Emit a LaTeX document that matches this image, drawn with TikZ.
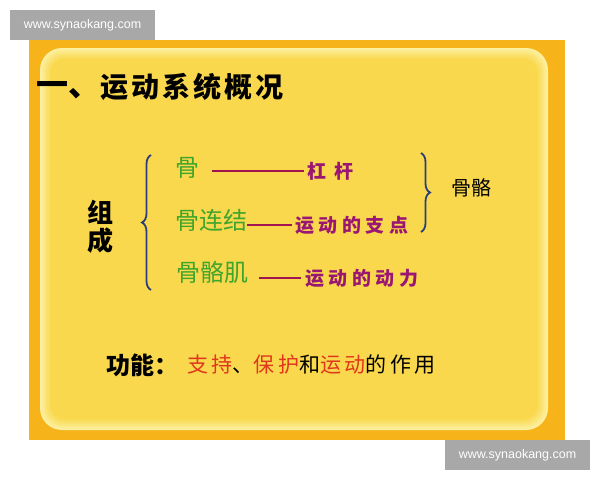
\documentclass[tikz,border=0pt]{standalone}
\usepackage{fontspec}
\setmainfont{Liberation Sans}
\newfontfamily\cjk{Noto Sans CJK SC}
\usetikzlibrary{decorations.pathreplacing}

\definecolor{frameorange}{HTML}{F6B31A}
\definecolor{panelyellow}{HTML}{F9D84B}
\definecolor{glowyellow}{HTML}{FDF0A0}
\definecolor{partgreen}{HTML}{3FA52C}
\definecolor{rolepurple}{HTML}{9A1673}
\definecolor{linkred}{HTML}{A01550}
\definecolor{braceblue}{HTML}{2A3F7A}
\definecolor{usered}{HTML}{E0361C}
\definecolor{wmgray}{HTML}{A8A8A8}

\tikzset{
    every node/.style={inner sep=0pt, outer sep=0pt},
    title/.style={anchor=west, font=\cjk\bfseries\fontsize{29}{29}\selectfont},
    group/.style={font=\cjk\bfseries\fontsize{26}{26}\selectfont},
    part/.style={anchor=west, text=partgreen, font=\cjk\fontsize{24}{24}\selectfont},
    role/.style={anchor=west, text=rolepurple, font=\cjk\bfseries\addfontfeatures{LetterSpace=24}\fontsize{19}{19}\selectfont},
    link/.style={draw=linkred, line width=2.2pt},
    curly/.style={draw=braceblue, line width=1.8pt, decorate, decoration={brace, amplitude=#1}},
    usage/.style={anchor=west, font=\cjk\addfontfeatures{LetterSpace=17}\fontsize{21}{21}\selectfont},
    wm/.style={fill=wmgray, text=white, font=\fontsize{12.5}{12.5}\selectfont, minimum width=145pt, minimum height=30pt},
}

\begin{document}
\begin{tikzpicture}[x=1pt, y=-1pt]
    \useasboundingbox (0,0) rectangle (600,480);
    \fill[white] (0,0) rectangle (600,480);

    % frame and glowing panel
    \fill[frameorange] (29,40) rectangle (565,440);
    \foreach \i [evaluate=\i as \p using int(100-\i*14)] in {0,...,7}
        \fill[glowyellow!\p!panelyellow, rounded corners=22pt-\i*1pt]
            (40+\i*1.5,48+\i*1.5) rectangle (548-\i*1.5,430-\i*1.5);

    % watermarks
    \node[wm] (wm-top) at (82.5,25) {www.synaokang.com};
    \node[wm] (wm-bottom) at (517.5,455) {www.synaokang.com};

    % heading
    \node[title, font=\cjk\bfseries\fontsize{32}{32}\selectfont] (head-num) at (36,90) {一、};
    \node[title, font=\cjk\bfseries\addfontfeatures{LetterSpace=11}\fontsize{28}{28}\selectfont] (head) at (100,87) {运动系统概况};

    % composition
    \node[group] (zu) at (100,212) {组};
    \node[group] (cheng) at (100,241) {成};

    \coordinate (lb-bottom) at (151,290);
    \coordinate (lb-top) at (151,155);
    \draw[curly=9pt] (lb-bottom) -- (lb-top);

    \node[part] (gu) at (175,168) {骨};
    \node[part] (lianjie) at (175,220) {骨连结};
    \node[part] (guge-ji) at (176,272) {骨骼肌};

    \node[role] (gangan) at (307,171) {杠\hspace{9pt}杆};
    \node[role] (zhidian) at (295,225) {运动的支点};
    \node[role] (dongli) at (305,278) {运动的动力};

    \draw[link, shorten <=13pt, shorten >=3pt] (gu.east |- gangan.west) -- (gangan.west);
    \draw[link, shorten >=3pt] (lianjie.east |- zhidian.west) -- (zhidian.west);
    \draw[link, shorten <=11pt, shorten >=4pt] (guge-ji.east |- dongli.west) -- (dongli.west);

    \coordinate (rb-top) at (421,153);
    \coordinate (rb-bottom) at (421,232);
    \draw[curly=9pt] (rb-top) -- (rb-bottom);
    \node[anchor=west, font=\cjk\fontsize{20}{20}\selectfont] (guge) at (451,188) {骨骼};

    % function
    \node[usage, font=\cjk\bfseries\fontsize{24}{24}\selectfont] (gongneng) at (106,365) {功能：};
    \node[usage] (uses) at ([xshift=9pt]gongneng.east) {%
        \textcolor{usered}{支持}、\textcolor{usered}{保护}和\textcolor{usered}{运动}的作用};
\end{tikzpicture}
\end{document}
